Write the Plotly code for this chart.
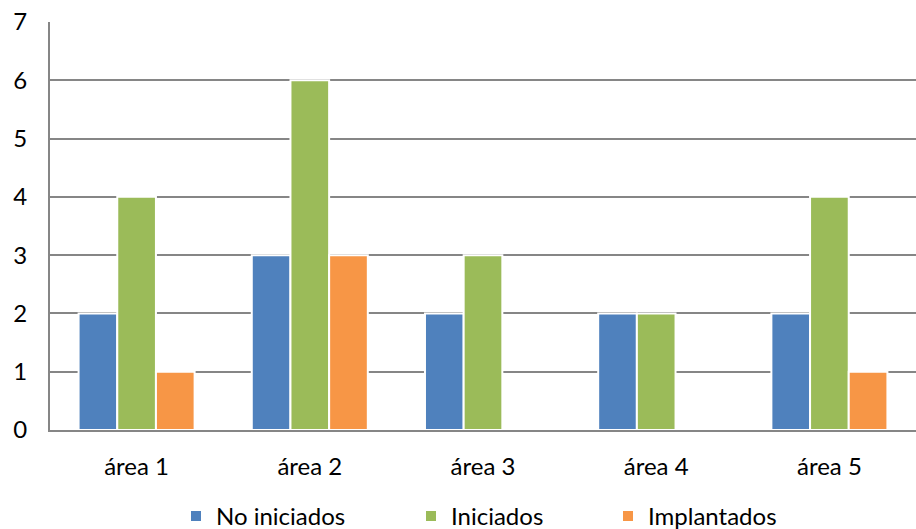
import plotly.graph_objects as go

categories = ["área 1", "área 2", "área 3", "área 4", "área 5"]
no_iniciados = [2, 3, 2, 2, 2]
iniciados = [4, 6, 3, 2, 4]
implantados = [1, 3, 0, 0, 1]
y_ticks = [0, 1, 2, 3, 4, 5, 6, 7]

FONT = "Lato"
FS = 24
colors = ["#4F81BD", "#9BBB59", "#F79646"]
names = ["No iniciados", "Iniciados", "Implantados"]
series = [no_iniciados, iniciados, implantados]
legend_keys = ["legend", "legend2", "legend3"]

fig = go.Figure()
for name, vals, col, lg in zip(names, series, colors, legend_keys):
    fig.add_trace(go.Bar(
        x=categories, y=vals, name=name, showlegend=True,
        marker=dict(color=col, line=dict(color="white", width=2)),
        legend=lg,
    ))

W, H = 916, 529
ml, mr, mt, mb = 50, 0, 22, 99
pw = W - ml - mr
ph = H - mt - mb

def px_to_paper_x(px):
    return (px - ml) / pw

def px_to_paper_y(py):
    return (H - mb - py) / ph

leg_common = dict(orientation="h", yanchor="bottom", xanchor="left",
                  font=dict(family=FONT, size=FS, color="#000000"),
                  bgcolor="rgba(0,0,0,0)", borderwidth=0)
legend_starts = [176, 411, 608]
legend_y = px_to_paper_y(539)

fig.update_layout(
    width=W, height=H,
    margin=dict(l=ml, r=mr, t=mt, b=mb, autoexpand=False),
    paper_bgcolor="white", plot_bgcolor="white",
    showlegend=True,
    barmode="group", bargap=0.33, bargroupgap=0,
    font=dict(family=FONT, size=FS, color="#000000"),
    legend=dict(x=px_to_paper_x(legend_starts[0]), y=legend_y, **leg_common),
    legend2=dict(x=px_to_paper_x(legend_starts[1]), y=legend_y, **leg_common),
    legend3=dict(x=px_to_paper_x(legend_starts[2]), y=legend_y, **leg_common),
    xaxis=dict(showline=True, linecolor="#868686", linewidth=2,
               showgrid=False, ticks="", ticklabelstandoff=14, automargin=False,
               tickfont=dict(family=FONT, size=FS)),
    yaxis=dict(range=[0, 7], tickvals=y_ticks, showline=True,
               linecolor="#868686", linewidth=2, showgrid=True,
               gridcolor="#868686", gridwidth=2, zeroline=False,
               ticks="", ticklabelstandoff=16, automargin=False,
               tickfont=dict(family=FONT, size=FS)),
)

fig.write_html("out.html", config={"displayModeBar": False},
               post_script="document.body.style.margin='0';document.body.style.overflow='hidden';")
